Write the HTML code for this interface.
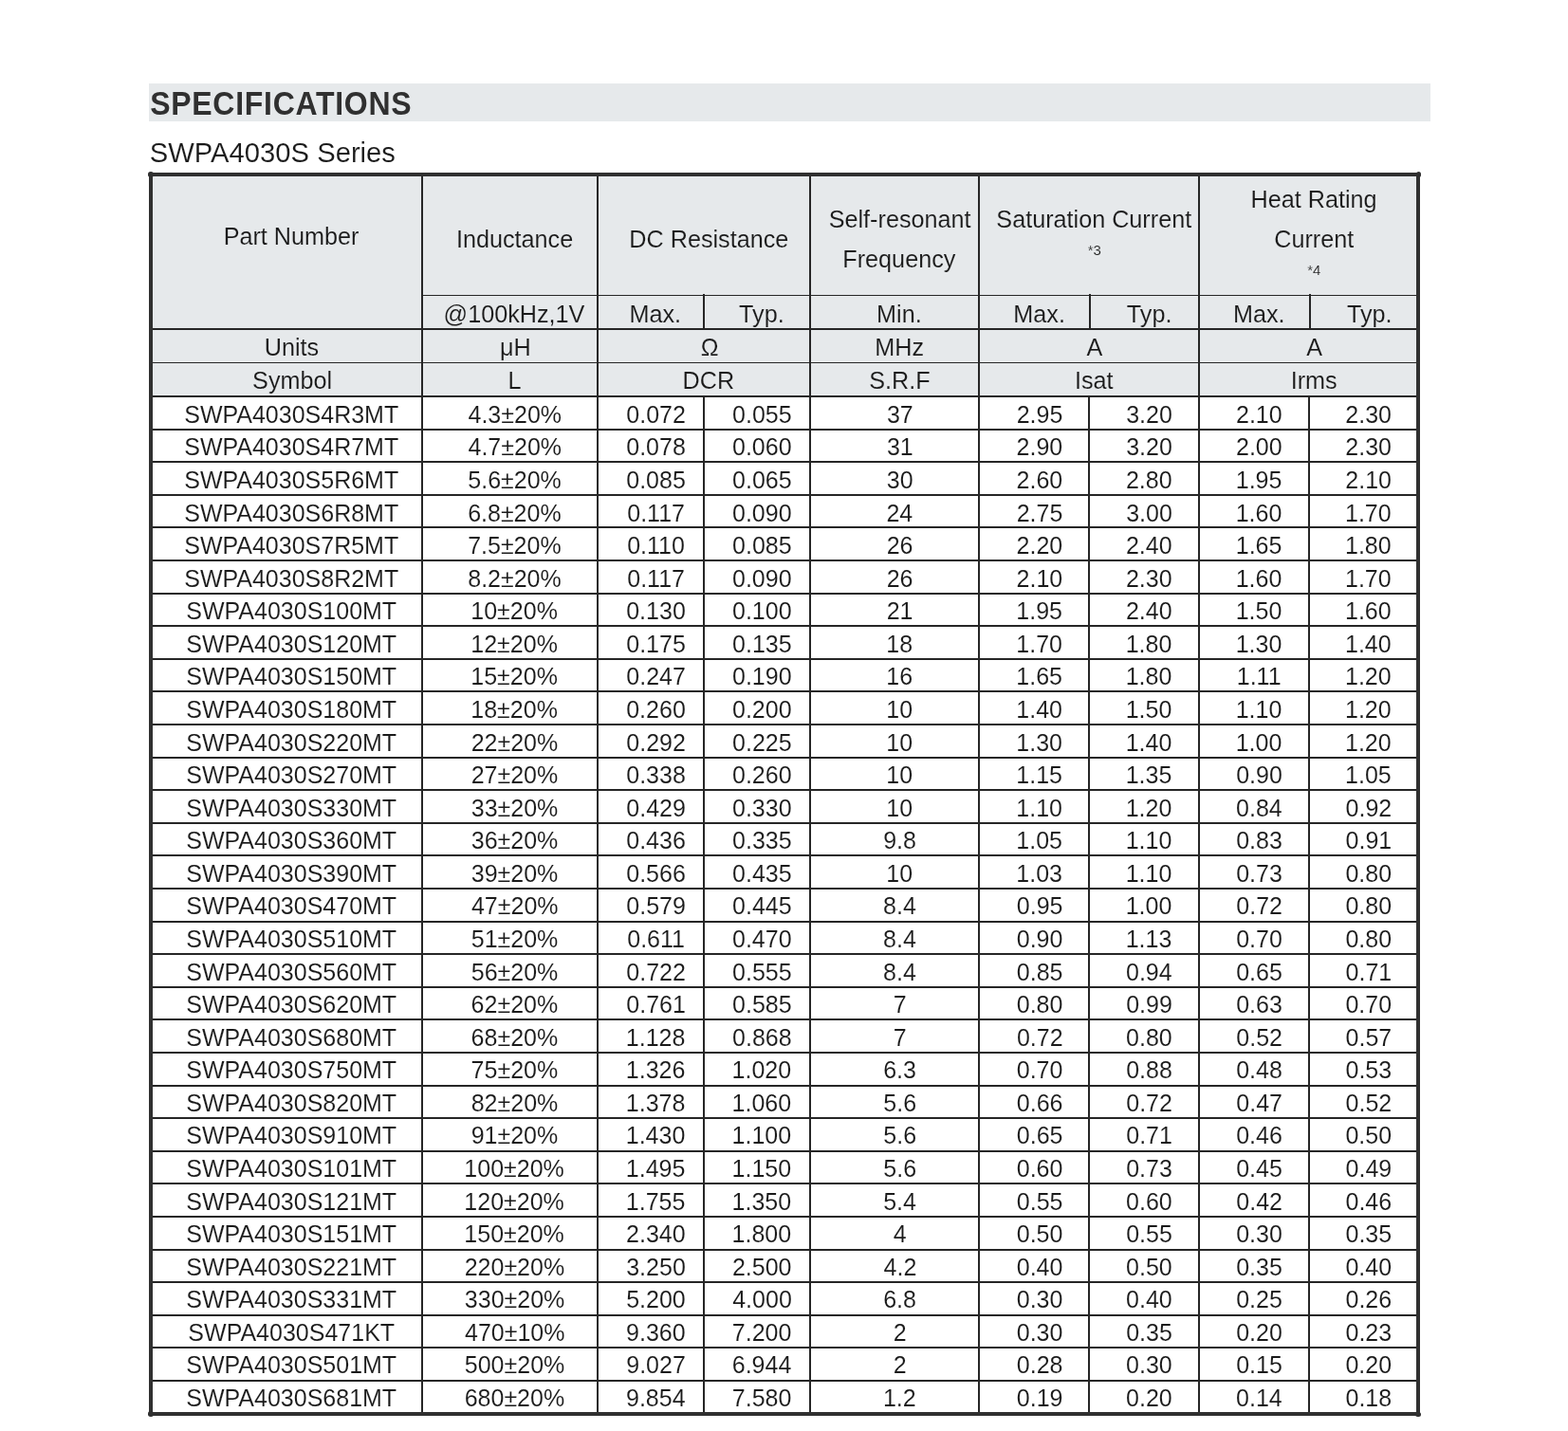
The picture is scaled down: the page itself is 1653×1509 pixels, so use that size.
<!DOCTYPE html>
<html lang="en">
<head>
<meta charset="utf-8">
<title>SWPA4030S Series Specifications</title>
<style>
html,body{margin:0;padding:0;background:#fff;}
body{width:1653px;height:1509px;position:relative;overflow:hidden;font-family:"Liberation Sans",sans-serif;color:#1a1a1a;}
.r{position:absolute;}
.t{position:absolute;white-space:nowrap;margin:0;padding:0;font-weight:normal;color:#1a1a1a;}
.t.b{font-weight:bold;}
.h{-webkit-text-stroke:0.1px #e6e9eb;}
.d{-webkit-text-stroke:0.1px #fff;}
h1.t{-webkit-text-stroke:0.0px #e6e9eb;color:#303030;}
h2.t{-webkit-text-stroke:0.1px #fff;}
</style>
</head>
<body>
<div class="r" style="left:157.00px;top:88.00px;width:1351.00px;height:40.00px;background:#e6e9eb"></div>
<div class="r" style="left:161.00px;top:186.00px;width:1332.00px;height:232.00px;background:#e6e9eb"></div>
<div class="r" style="left:157.00px;top:182.00px;width:4.00px;height:1311.00px;background:#303030"></div>
<div class="r" style="left:1493.00px;top:182.00px;width:4.00px;height:1311.00px;background:#303030"></div>
<div class="r" style="left:157.00px;top:182.00px;width:1340.00px;height:4.00px;background:#303030"></div>
<div class="r" style="left:157.00px;top:1489.00px;width:1340.00px;height:4.00px;background:#303030"></div>
<div class="r" style="left:444.20px;top:186.00px;width:2.00px;height:1303.00px;background:#262626"></div>
<div class="r" style="left:629.20px;top:186.00px;width:2.00px;height:1303.00px;background:#262626"></div>
<div class="r" style="left:852.80px;top:186.00px;width:2.00px;height:1303.00px;background:#262626"></div>
<div class="r" style="left:1031.20px;top:186.00px;width:2.00px;height:1303.00px;background:#262626"></div>
<div class="r" style="left:1263.20px;top:186.00px;width:2.00px;height:1303.00px;background:#262626"></div>
<div class="r" style="left:741.00px;top:310.00px;width:2.00px;height:37.00px;background:#262626"></div>
<div class="r" style="left:740.50px;top:418.00px;width:2.00px;height:1071.00px;background:#262626"></div>
<div class="r" style="left:1148.00px;top:310.00px;width:2.00px;height:37.00px;background:#262626"></div>
<div class="r" style="left:1147.00px;top:418.00px;width:2.00px;height:1071.00px;background:#262626"></div>
<div class="r" style="left:1380.00px;top:310.00px;width:2.00px;height:37.00px;background:#262626"></div>
<div class="r" style="left:1379.00px;top:418.00px;width:2.00px;height:1071.00px;background:#262626"></div>
<div class="r" style="left:445.20px;top:311.00px;width:1047.80px;height:1.00px;background:#262626"></div>
<div class="r" style="left:161.00px;top:346.00px;width:1332.00px;height:2.00px;background:#262626"></div>
<div class="r" style="left:161.00px;top:382.00px;width:1332.00px;height:1.00px;background:#262626"></div>
<div class="r" style="left:161.00px;top:417.00px;width:1332.00px;height:2.00px;background:#262626"></div>
<div class="r" style="left:161.00px;top:451.60px;width:1332.00px;height:2.00px;background:#262626"></div>
<div class="r" style="left:161.00px;top:486.20px;width:1332.00px;height:2.00px;background:#262626"></div>
<div class="r" style="left:161.00px;top:520.80px;width:1332.00px;height:2.00px;background:#262626"></div>
<div class="r" style="left:161.00px;top:555.40px;width:1332.00px;height:2.00px;background:#262626"></div>
<div class="r" style="left:161.00px;top:590.00px;width:1332.00px;height:2.00px;background:#262626"></div>
<div class="r" style="left:161.00px;top:624.60px;width:1332.00px;height:2.00px;background:#262626"></div>
<div class="r" style="left:161.00px;top:659.20px;width:1332.00px;height:2.00px;background:#262626"></div>
<div class="r" style="left:161.00px;top:693.80px;width:1332.00px;height:2.00px;background:#262626"></div>
<div class="r" style="left:161.00px;top:728.40px;width:1332.00px;height:2.00px;background:#262626"></div>
<div class="r" style="left:161.00px;top:763.00px;width:1332.00px;height:2.00px;background:#262626"></div>
<div class="r" style="left:161.00px;top:797.60px;width:1332.00px;height:2.00px;background:#262626"></div>
<div class="r" style="left:161.00px;top:832.20px;width:1332.00px;height:2.00px;background:#262626"></div>
<div class="r" style="left:161.00px;top:866.80px;width:1332.00px;height:2.00px;background:#262626"></div>
<div class="r" style="left:161.00px;top:901.40px;width:1332.00px;height:2.00px;background:#262626"></div>
<div class="r" style="left:161.00px;top:936.00px;width:1332.00px;height:2.00px;background:#262626"></div>
<div class="r" style="left:161.00px;top:970.60px;width:1332.00px;height:2.00px;background:#262626"></div>
<div class="r" style="left:161.00px;top:1005.20px;width:1332.00px;height:2.00px;background:#262626"></div>
<div class="r" style="left:161.00px;top:1039.80px;width:1332.00px;height:2.00px;background:#262626"></div>
<div class="r" style="left:161.00px;top:1074.40px;width:1332.00px;height:2.00px;background:#262626"></div>
<div class="r" style="left:161.00px;top:1109.00px;width:1332.00px;height:2.00px;background:#262626"></div>
<div class="r" style="left:161.00px;top:1143.60px;width:1332.00px;height:2.00px;background:#262626"></div>
<div class="r" style="left:161.00px;top:1178.20px;width:1332.00px;height:2.00px;background:#262626"></div>
<div class="r" style="left:161.00px;top:1212.80px;width:1332.00px;height:2.00px;background:#262626"></div>
<div class="r" style="left:161.00px;top:1247.40px;width:1332.00px;height:2.00px;background:#262626"></div>
<div class="r" style="left:161.00px;top:1282.00px;width:1332.00px;height:2.00px;background:#262626"></div>
<div class="r" style="left:161.00px;top:1316.60px;width:1332.00px;height:2.00px;background:#262626"></div>
<div class="r" style="left:161.00px;top:1351.20px;width:1332.00px;height:2.00px;background:#262626"></div>
<div class="r" style="left:161.00px;top:1385.80px;width:1332.00px;height:2.00px;background:#262626"></div>
<div class="r" style="left:161.00px;top:1420.40px;width:1332.00px;height:2.00px;background:#262626"></div>
<div class="r" style="left:161.00px;top:1455.00px;width:1332.00px;height:2.00px;background:#262626"></div>
<div class="r" style="left:156.20px;top:181.20px;width:5.60px;height:5.60px;border-radius:50%;background:#303030"></div>
<div class="r" style="left:1492.50px;top:181.00px;width:5.60px;height:5.60px;border-radius:50%;background:#303030"></div>
<div class="r" style="left:156.00px;top:1488.40px;width:5.60px;height:5.60px;border-radius:50%;background:#303030"></div>
<div class="r" style="left:1492.20px;top:1488.50px;width:5.60px;height:5.60px;border-radius:50%;background:#303030"></div>
<h1 class="t b" style="left:158.18px;top:89.00px;font-size:32px;line-height:42px;letter-spacing:0.721px;transform:scaleY(1.0765);transform-origin:0 32.00px;">SPECIFICATIONS</h1>
<h2 class="t" style="left:157.77px;top:142.00px;font-size:29.2px;line-height:38px;letter-spacing:0.010px;transform:scaleY(1.0204);transform-origin:0 29.00px;">SWPA4030S Series</h2>
<div class="t h" style="left:235.68px;top:233.00px;font-size:25.2px;line-height:33px;">Part Number</div>
<div class="t h" style="left:480.93px;top:236.00px;font-size:25.2px;line-height:33px;">Inductance</div>
<div class="t h" style="left:663.33px;top:236.00px;font-size:25.2px;line-height:33px;">DC Resistance</div>
<div class="t h" style="left:873.71px;top:215.00px;font-size:25.2px;line-height:33px;">Self-resonant</div>
<div class="t h" style="left:888.33px;top:257.00px;font-size:25.2px;line-height:33px;">Frequency</div>
<div class="t h" style="left:1050.36px;top:215.00px;font-size:25.2px;line-height:33px;">Saturation Current</div>
<div class="t h" style="left:1146.76px;top:254.00px;font-size:15px;line-height:20px;">*3</div>
<div class="t h" style="left:1318.57px;top:194.00px;font-size:25.2px;line-height:33px;">Heat Rating</div>
<div class="t h" style="left:1343.25px;top:236.00px;font-size:25.2px;line-height:33px;">Current</div>
<div class="t h" style="left:1378.21px;top:275.00px;font-size:15px;line-height:20px;">*4</div>
<div class="t h" style="left:467.57px;top:315.00px;font-size:25.2px;line-height:33px;">@100kHz,1V</div>
<div class="t h" style="left:663.47px;top:315.00px;font-size:25.2px;line-height:33px;">Max.</div>
<div class="t h" style="left:779.06px;top:315.00px;font-size:25.2px;line-height:33px;">Typ.</div>
<div class="t h" style="left:924.12px;top:315.00px;font-size:25.2px;line-height:33px;">Min.</div>
<div class="t h" style="left:1068.37px;top:315.00px;font-size:25.2px;line-height:33px;">Max.</div>
<div class="t h" style="left:1187.81px;top:315.00px;font-size:25.2px;line-height:33px;">Typ.</div>
<div class="t h" style="left:1299.97px;top:315.00px;font-size:25.2px;line-height:33px;">Max.</div>
<div class="t h" style="left:1419.91px;top:315.00px;font-size:25.2px;line-height:33px;">Typ.</div>
<div class="t h" style="left:278.69px;top:350.00px;font-size:25.2px;line-height:33px;">Units</div>
<div class="t h" style="left:526.98px;top:350.00px;font-size:25.2px;line-height:33px;">μH</div>
<div class="t h" style="left:738.68px;top:350.00px;font-size:25.2px;line-height:33px;">Ω</div>
<div class="t h" style="left:922.36px;top:350.00px;font-size:25.2px;line-height:33px;">MHz</div>
<div class="t h" style="left:1145.59px;top:350.00px;font-size:25.2px;line-height:33px;">A</div>
<div class="t h" style="left:1377.29px;top:350.00px;font-size:25.2px;line-height:33px;">A</div>
<div class="t h" style="left:266.12px;top:385.00px;font-size:25.2px;line-height:33px;">Symbol</div>
<div class="t h" style="left:535.48px;top:385.00px;font-size:25.2px;line-height:33px;">L</div>
<div class="t h" style="left:719.56px;top:385.00px;font-size:25.2px;line-height:33px;">DCR</div>
<div class="t h" style="left:916.19px;top:385.00px;font-size:25.2px;line-height:33px;">S.R.F</div>
<div class="t h" style="left:1132.92px;top:385.00px;font-size:25.2px;line-height:33px;">Isat</div>
<div class="t h" style="left:1360.66px;top:385.00px;font-size:25.2px;line-height:33px;">Irms</div>
<div class="t d" style="left:194.21px;top:421.00px;font-size:25.0px;line-height:32px;">SWPA4030S4R3MT</div>
<div class="t d" style="left:493.50px;top:421.00px;font-size:25.0px;line-height:32px;">4.3±20%</div>
<div class="t d" style="left:660.36px;top:421.00px;font-size:25.0px;line-height:32px;">0.072</div>
<div class="t d" style="left:772.06px;top:421.00px;font-size:25.0px;line-height:32px;">0.055</div>
<div class="t d" style="left:934.90px;top:421.00px;font-size:25.0px;line-height:32px;">37</div>
<div class="t d" style="left:1071.66px;top:421.00px;font-size:25.0px;line-height:32px;">2.95</div>
<div class="t d" style="left:1187.13px;top:421.00px;font-size:25.0px;line-height:32px;">3.20</div>
<div class="t d" style="left:1303.02px;top:421.00px;font-size:25.0px;line-height:32px;">2.10</div>
<div class="t d" style="left:1418.32px;top:421.00px;font-size:25.0px;line-height:32px;">2.30</div>
<div class="t d" style="left:194.21px;top:455.00px;font-size:25.0px;line-height:32px;">SWPA4030S4R7MT</div>
<div class="t d" style="left:493.50px;top:455.00px;font-size:25.0px;line-height:32px;">4.7±20%</div>
<div class="t d" style="left:660.27px;top:455.00px;font-size:25.0px;line-height:32px;">0.078</div>
<div class="t d" style="left:772.02px;top:455.00px;font-size:25.0px;line-height:32px;">0.060</div>
<div class="t d" style="left:934.88px;top:455.00px;font-size:25.0px;line-height:32px;">31</div>
<div class="t d" style="left:1071.62px;top:455.00px;font-size:25.0px;line-height:32px;">2.90</div>
<div class="t d" style="left:1187.13px;top:455.00px;font-size:25.0px;line-height:32px;">3.20</div>
<div class="t d" style="left:1303.02px;top:455.00px;font-size:25.0px;line-height:32px;">2.00</div>
<div class="t d" style="left:1418.32px;top:455.00px;font-size:25.0px;line-height:32px;">2.30</div>
<div class="t d" style="left:194.21px;top:490.00px;font-size:25.0px;line-height:32px;">SWPA4030S5R6MT</div>
<div class="t d" style="left:493.29px;top:490.00px;font-size:25.0px;line-height:32px;">5.6±20%</div>
<div class="t d" style="left:660.26px;top:490.00px;font-size:25.0px;line-height:32px;">0.085</div>
<div class="t d" style="left:772.06px;top:490.00px;font-size:25.0px;line-height:32px;">0.065</div>
<div class="t d" style="left:934.76px;top:490.00px;font-size:25.0px;line-height:32px;">30</div>
<div class="t d" style="left:1071.62px;top:490.00px;font-size:25.0px;line-height:32px;">2.60</div>
<div class="t d" style="left:1186.97px;top:490.00px;font-size:25.0px;line-height:32px;">2.80</div>
<div class="t d" style="left:1302.74px;top:490.00px;font-size:25.0px;line-height:32px;">1.95</div>
<div class="t d" style="left:1418.32px;top:490.00px;font-size:25.0px;line-height:32px;">2.10</div>
<div class="t d" style="left:194.21px;top:525.00px;font-size:25.0px;line-height:32px;">SWPA4030S6R8MT</div>
<div class="t d" style="left:493.15px;top:525.00px;font-size:25.0px;line-height:32px;">6.8±20%</div>
<div class="t d" style="left:661.28px;top:525.00px;font-size:25.0px;line-height:32px;">0.117</div>
<div class="t d" style="left:772.02px;top:525.00px;font-size:25.0px;line-height:32px;">0.090</div>
<div class="t d" style="left:934.48px;top:525.00px;font-size:25.0px;line-height:32px;">24</div>
<div class="t d" style="left:1071.66px;top:525.00px;font-size:25.0px;line-height:32px;">2.75</div>
<div class="t d" style="left:1187.13px;top:525.00px;font-size:25.0px;line-height:32px;">3.00</div>
<div class="t d" style="left:1302.70px;top:525.00px;font-size:25.0px;line-height:32px;">1.60</div>
<div class="t d" style="left:1418.00px;top:525.00px;font-size:25.0px;line-height:32px;">1.70</div>
<div class="t d" style="left:194.21px;top:559.00px;font-size:25.0px;line-height:32px;">SWPA4030S7R5MT</div>
<div class="t d" style="left:493.15px;top:559.00px;font-size:25.0px;line-height:32px;">7.5±20%</div>
<div class="t d" style="left:661.14px;top:559.00px;font-size:25.0px;line-height:32px;">0.110</div>
<div class="t d" style="left:772.06px;top:559.00px;font-size:25.0px;line-height:32px;">0.085</div>
<div class="t d" style="left:934.66px;top:559.00px;font-size:25.0px;line-height:32px;">26</div>
<div class="t d" style="left:1071.62px;top:559.00px;font-size:25.0px;line-height:32px;">2.20</div>
<div class="t d" style="left:1186.97px;top:559.00px;font-size:25.0px;line-height:32px;">2.40</div>
<div class="t d" style="left:1302.74px;top:559.00px;font-size:25.0px;line-height:32px;">1.65</div>
<div class="t d" style="left:1418.00px;top:559.00px;font-size:25.0px;line-height:32px;">1.80</div>
<div class="t d" style="left:194.21px;top:594.00px;font-size:25.0px;line-height:32px;">SWPA4030S8R2MT</div>
<div class="t d" style="left:493.24px;top:594.00px;font-size:25.0px;line-height:32px;">8.2±20%</div>
<div class="t d" style="left:661.28px;top:594.00px;font-size:25.0px;line-height:32px;">0.117</div>
<div class="t d" style="left:772.02px;top:594.00px;font-size:25.0px;line-height:32px;">0.090</div>
<div class="t d" style="left:934.66px;top:594.00px;font-size:25.0px;line-height:32px;">26</div>
<div class="t d" style="left:1071.62px;top:594.00px;font-size:25.0px;line-height:32px;">2.10</div>
<div class="t d" style="left:1186.97px;top:594.00px;font-size:25.0px;line-height:32px;">2.30</div>
<div class="t d" style="left:1302.70px;top:594.00px;font-size:25.0px;line-height:32px;">1.60</div>
<div class="t d" style="left:1418.00px;top:594.00px;font-size:25.0px;line-height:32px;">1.70</div>
<div class="t d" style="left:196.28px;top:628.00px;font-size:25.0px;line-height:32px;">SWPA4030S100MT</div>
<div class="t d" style="left:496.30px;top:628.00px;font-size:25.0px;line-height:32px;">10±20%</div>
<div class="t d" style="left:660.22px;top:628.00px;font-size:25.0px;line-height:32px;">0.130</div>
<div class="t d" style="left:772.02px;top:628.00px;font-size:25.0px;line-height:32px;">0.100</div>
<div class="t d" style="left:934.73px;top:628.00px;font-size:25.0px;line-height:32px;">21</div>
<div class="t d" style="left:1071.34px;top:628.00px;font-size:25.0px;line-height:32px;">1.95</div>
<div class="t d" style="left:1186.97px;top:628.00px;font-size:25.0px;line-height:32px;">2.40</div>
<div class="t d" style="left:1302.70px;top:628.00px;font-size:25.0px;line-height:32px;">1.50</div>
<div class="t d" style="left:1418.00px;top:628.00px;font-size:25.0px;line-height:32px;">1.60</div>
<div class="t d" style="left:196.28px;top:663.00px;font-size:25.0px;line-height:32px;">SWPA4030S120MT</div>
<div class="t d" style="left:496.30px;top:663.00px;font-size:25.0px;line-height:32px;">12±20%</div>
<div class="t d" style="left:660.26px;top:663.00px;font-size:25.0px;line-height:32px;">0.175</div>
<div class="t d" style="left:772.06px;top:663.00px;font-size:25.0px;line-height:32px;">0.135</div>
<div class="t d" style="left:934.33px;top:663.00px;font-size:25.0px;line-height:32px;">18</div>
<div class="t d" style="left:1071.30px;top:663.00px;font-size:25.0px;line-height:32px;">1.70</div>
<div class="t d" style="left:1186.65px;top:663.00px;font-size:25.0px;line-height:32px;">1.80</div>
<div class="t d" style="left:1302.70px;top:663.00px;font-size:25.0px;line-height:32px;">1.30</div>
<div class="t d" style="left:1418.00px;top:663.00px;font-size:25.0px;line-height:32px;">1.40</div>
<div class="t d" style="left:196.28px;top:697.00px;font-size:25.0px;line-height:32px;">SWPA4030S150MT</div>
<div class="t d" style="left:496.30px;top:697.00px;font-size:25.0px;line-height:32px;">15±20%</div>
<div class="t d" style="left:660.36px;top:697.00px;font-size:25.0px;line-height:32px;">0.247</div>
<div class="t d" style="left:772.02px;top:697.00px;font-size:25.0px;line-height:32px;">0.190</div>
<div class="t d" style="left:934.34px;top:697.00px;font-size:25.0px;line-height:32px;">16</div>
<div class="t d" style="left:1071.34px;top:697.00px;font-size:25.0px;line-height:32px;">1.65</div>
<div class="t d" style="left:1186.65px;top:697.00px;font-size:25.0px;line-height:32px;">1.80</div>
<div class="t d" style="left:1303.75px;top:697.00px;font-size:25.0px;line-height:32px;">1.11</div>
<div class="t d" style="left:1418.00px;top:697.00px;font-size:25.0px;line-height:32px;">1.20</div>
<div class="t d" style="left:196.28px;top:732.00px;font-size:25.0px;line-height:32px;">SWPA4030S180MT</div>
<div class="t d" style="left:496.30px;top:732.00px;font-size:25.0px;line-height:32px;">18±20%</div>
<div class="t d" style="left:660.22px;top:732.00px;font-size:25.0px;line-height:32px;">0.260</div>
<div class="t d" style="left:772.02px;top:732.00px;font-size:25.0px;line-height:32px;">0.200</div>
<div class="t d" style="left:934.28px;top:732.00px;font-size:25.0px;line-height:32px;">10</div>
<div class="t d" style="left:1071.30px;top:732.00px;font-size:25.0px;line-height:32px;">1.40</div>
<div class="t d" style="left:1186.65px;top:732.00px;font-size:25.0px;line-height:32px;">1.50</div>
<div class="t d" style="left:1302.70px;top:732.00px;font-size:25.0px;line-height:32px;">1.10</div>
<div class="t d" style="left:1418.00px;top:732.00px;font-size:25.0px;line-height:32px;">1.20</div>
<div class="t d" style="left:196.28px;top:767.00px;font-size:25.0px;line-height:32px;">SWPA4030S220MT</div>
<div class="t d" style="left:496.63px;top:767.00px;font-size:25.0px;line-height:32px;">22±20%</div>
<div class="t d" style="left:660.36px;top:767.00px;font-size:25.0px;line-height:32px;">0.292</div>
<div class="t d" style="left:772.06px;top:767.00px;font-size:25.0px;line-height:32px;">0.225</div>
<div class="t d" style="left:934.28px;top:767.00px;font-size:25.0px;line-height:32px;">10</div>
<div class="t d" style="left:1071.30px;top:767.00px;font-size:25.0px;line-height:32px;">1.30</div>
<div class="t d" style="left:1186.65px;top:767.00px;font-size:25.0px;line-height:32px;">1.40</div>
<div class="t d" style="left:1302.70px;top:767.00px;font-size:25.0px;line-height:32px;">1.00</div>
<div class="t d" style="left:1418.00px;top:767.00px;font-size:25.0px;line-height:32px;">1.20</div>
<div class="t d" style="left:196.28px;top:801.00px;font-size:25.0px;line-height:32px;">SWPA4030S270MT</div>
<div class="t d" style="left:496.63px;top:801.00px;font-size:25.0px;line-height:32px;">27±20%</div>
<div class="t d" style="left:660.27px;top:801.00px;font-size:25.0px;line-height:32px;">0.338</div>
<div class="t d" style="left:772.02px;top:801.00px;font-size:25.0px;line-height:32px;">0.260</div>
<div class="t d" style="left:934.28px;top:801.00px;font-size:25.0px;line-height:32px;">10</div>
<div class="t d" style="left:1071.34px;top:801.00px;font-size:25.0px;line-height:32px;">1.15</div>
<div class="t d" style="left:1186.69px;top:801.00px;font-size:25.0px;line-height:32px;">1.35</div>
<div class="t d" style="left:1303.16px;top:801.00px;font-size:25.0px;line-height:32px;">0.90</div>
<div class="t d" style="left:1418.04px;top:801.00px;font-size:25.0px;line-height:32px;">1.05</div>
<div class="t d" style="left:196.28px;top:836.00px;font-size:25.0px;line-height:32px;">SWPA4030S330MT</div>
<div class="t d" style="left:496.78px;top:836.00px;font-size:25.0px;line-height:32px;">33±20%</div>
<div class="t d" style="left:660.32px;top:836.00px;font-size:25.0px;line-height:32px;">0.429</div>
<div class="t d" style="left:772.02px;top:836.00px;font-size:25.0px;line-height:32px;">0.330</div>
<div class="t d" style="left:934.28px;top:836.00px;font-size:25.0px;line-height:32px;">10</div>
<div class="t d" style="left:1071.30px;top:836.00px;font-size:25.0px;line-height:32px;">1.10</div>
<div class="t d" style="left:1186.65px;top:836.00px;font-size:25.0px;line-height:32px;">1.20</div>
<div class="t d" style="left:1303.04px;top:836.00px;font-size:25.0px;line-height:32px;">0.84</div>
<div class="t d" style="left:1418.60px;top:836.00px;font-size:25.0px;line-height:32px;">0.92</div>
<div class="t d" style="left:196.28px;top:870.00px;font-size:25.0px;line-height:32px;">SWPA4030S360MT</div>
<div class="t d" style="left:496.78px;top:870.00px;font-size:25.0px;line-height:32px;">36±20%</div>
<div class="t d" style="left:660.28px;top:870.00px;font-size:25.0px;line-height:32px;">0.436</div>
<div class="t d" style="left:772.06px;top:870.00px;font-size:25.0px;line-height:32px;">0.335</div>
<div class="t d" style="left:931.22px;top:870.00px;font-size:25.0px;line-height:32px;">9.8</div>
<div class="t d" style="left:1071.34px;top:870.00px;font-size:25.0px;line-height:32px;">1.05</div>
<div class="t d" style="left:1186.65px;top:870.00px;font-size:25.0px;line-height:32px;">1.10</div>
<div class="t d" style="left:1303.23px;top:870.00px;font-size:25.0px;line-height:32px;">0.83</div>
<div class="t d" style="left:1418.59px;top:870.00px;font-size:25.0px;line-height:32px;">0.91</div>
<div class="t d" style="left:196.28px;top:905.00px;font-size:25.0px;line-height:32px;">SWPA4030S390MT</div>
<div class="t d" style="left:496.78px;top:905.00px;font-size:25.0px;line-height:32px;">39±20%</div>
<div class="t d" style="left:660.28px;top:905.00px;font-size:25.0px;line-height:32px;">0.566</div>
<div class="t d" style="left:772.06px;top:905.00px;font-size:25.0px;line-height:32px;">0.435</div>
<div class="t d" style="left:934.28px;top:905.00px;font-size:25.0px;line-height:32px;">10</div>
<div class="t d" style="left:1071.36px;top:905.00px;font-size:25.0px;line-height:32px;">1.03</div>
<div class="t d" style="left:1186.65px;top:905.00px;font-size:25.0px;line-height:32px;">1.10</div>
<div class="t d" style="left:1303.23px;top:905.00px;font-size:25.0px;line-height:32px;">0.73</div>
<div class="t d" style="left:1418.46px;top:905.00px;font-size:25.0px;line-height:32px;">0.80</div>
<div class="t d" style="left:196.28px;top:939.00px;font-size:25.0px;line-height:32px;">SWPA4030S470MT</div>
<div class="t d" style="left:496.97px;top:939.00px;font-size:25.0px;line-height:32px;">47±20%</div>
<div class="t d" style="left:660.32px;top:939.00px;font-size:25.0px;line-height:32px;">0.579</div>
<div class="t d" style="left:772.06px;top:939.00px;font-size:25.0px;line-height:32px;">0.445</div>
<div class="t d" style="left:931.09px;top:939.00px;font-size:25.0px;line-height:32px;">8.4</div>
<div class="t d" style="left:1071.80px;top:939.00px;font-size:25.0px;line-height:32px;">0.95</div>
<div class="t d" style="left:1186.65px;top:939.00px;font-size:25.0px;line-height:32px;">1.00</div>
<div class="t d" style="left:1303.30px;top:939.00px;font-size:25.0px;line-height:32px;">0.72</div>
<div class="t d" style="left:1418.46px;top:939.00px;font-size:25.0px;line-height:32px;">0.80</div>
<div class="t d" style="left:196.28px;top:974.00px;font-size:25.0px;line-height:32px;">SWPA4030S510MT</div>
<div class="t d" style="left:496.76px;top:974.00px;font-size:25.0px;line-height:32px;">51±20%</div>
<div class="t d" style="left:661.26px;top:974.00px;font-size:25.0px;line-height:32px;">0.611</div>
<div class="t d" style="left:772.02px;top:974.00px;font-size:25.0px;line-height:32px;">0.470</div>
<div class="t d" style="left:931.09px;top:974.00px;font-size:25.0px;line-height:32px;">8.4</div>
<div class="t d" style="left:1071.76px;top:974.00px;font-size:25.0px;line-height:32px;">0.90</div>
<div class="t d" style="left:1186.71px;top:974.00px;font-size:25.0px;line-height:32px;">1.13</div>
<div class="t d" style="left:1303.16px;top:974.00px;font-size:25.0px;line-height:32px;">0.70</div>
<div class="t d" style="left:1418.46px;top:974.00px;font-size:25.0px;line-height:32px;">0.80</div>
<div class="t d" style="left:196.28px;top:1009.00px;font-size:25.0px;line-height:32px;">SWPA4030S560MT</div>
<div class="t d" style="left:496.76px;top:1009.00px;font-size:25.0px;line-height:32px;">56±20%</div>
<div class="t d" style="left:660.36px;top:1009.00px;font-size:25.0px;line-height:32px;">0.722</div>
<div class="t d" style="left:772.06px;top:1009.00px;font-size:25.0px;line-height:32px;">0.555</div>
<div class="t d" style="left:931.09px;top:1009.00px;font-size:25.0px;line-height:32px;">8.4</div>
<div class="t d" style="left:1071.80px;top:1009.00px;font-size:25.0px;line-height:32px;">0.85</div>
<div class="t d" style="left:1186.99px;top:1009.00px;font-size:25.0px;line-height:32px;">0.94</div>
<div class="t d" style="left:1303.20px;top:1009.00px;font-size:25.0px;line-height:32px;">0.65</div>
<div class="t d" style="left:1418.59px;top:1009.00px;font-size:25.0px;line-height:32px;">0.71</div>
<div class="t d" style="left:196.28px;top:1043.00px;font-size:25.0px;line-height:32px;">SWPA4030S620MT</div>
<div class="t d" style="left:496.62px;top:1043.00px;font-size:25.0px;line-height:32px;">62±20%</div>
<div class="t d" style="left:660.34px;top:1043.00px;font-size:25.0px;line-height:32px;">0.761</div>
<div class="t d" style="left:772.06px;top:1043.00px;font-size:25.0px;line-height:32px;">0.585</div>
<div class="t d" style="left:941.68px;top:1043.00px;font-size:25.0px;line-height:32px;">7</div>
<div class="t d" style="left:1071.76px;top:1043.00px;font-size:25.0px;line-height:32px;">0.80</div>
<div class="t d" style="left:1187.22px;top:1043.00px;font-size:25.0px;line-height:32px;">0.99</div>
<div class="t d" style="left:1303.23px;top:1043.00px;font-size:25.0px;line-height:32px;">0.63</div>
<div class="t d" style="left:1418.46px;top:1043.00px;font-size:25.0px;line-height:32px;">0.70</div>
<div class="t d" style="left:196.28px;top:1078.00px;font-size:25.0px;line-height:32px;">SWPA4030S680MT</div>
<div class="t d" style="left:496.62px;top:1078.00px;font-size:25.0px;line-height:32px;">68±20%</div>
<div class="t d" style="left:659.81px;top:1078.00px;font-size:25.0px;line-height:32px;">1.128</div>
<div class="t d" style="left:772.07px;top:1078.00px;font-size:25.0px;line-height:32px;">0.868</div>
<div class="t d" style="left:941.68px;top:1078.00px;font-size:25.0px;line-height:32px;">7</div>
<div class="t d" style="left:1071.90px;top:1078.00px;font-size:25.0px;line-height:32px;">0.72</div>
<div class="t d" style="left:1187.11px;top:1078.00px;font-size:25.0px;line-height:32px;">0.80</div>
<div class="t d" style="left:1303.30px;top:1078.00px;font-size:25.0px;line-height:32px;">0.52</div>
<div class="t d" style="left:1418.60px;top:1078.00px;font-size:25.0px;line-height:32px;">0.57</div>
<div class="t d" style="left:196.28px;top:1112.00px;font-size:25.0px;line-height:32px;">SWPA4030S750MT</div>
<div class="t d" style="left:496.62px;top:1112.00px;font-size:25.0px;line-height:32px;">75±20%</div>
<div class="t d" style="left:659.82px;top:1112.00px;font-size:25.0px;line-height:32px;">1.326</div>
<div class="t d" style="left:771.55px;top:1112.00px;font-size:25.0px;line-height:32px;">1.020</div>
<div class="t d" style="left:931.18px;top:1112.00px;font-size:25.0px;line-height:32px;">6.3</div>
<div class="t d" style="left:1071.76px;top:1112.00px;font-size:25.0px;line-height:32px;">0.70</div>
<div class="t d" style="left:1187.17px;top:1112.00px;font-size:25.0px;line-height:32px;">0.88</div>
<div class="t d" style="left:1303.22px;top:1112.00px;font-size:25.0px;line-height:32px;">0.48</div>
<div class="t d" style="left:1418.53px;top:1112.00px;font-size:25.0px;line-height:32px;">0.53</div>
<div class="t d" style="left:196.28px;top:1147.00px;font-size:25.0px;line-height:32px;">SWPA4030S820MT</div>
<div class="t d" style="left:496.71px;top:1147.00px;font-size:25.0px;line-height:32px;">82±20%</div>
<div class="t d" style="left:659.81px;top:1147.00px;font-size:25.0px;line-height:32px;">1.378</div>
<div class="t d" style="left:771.55px;top:1147.00px;font-size:25.0px;line-height:32px;">1.060</div>
<div class="t d" style="left:931.32px;top:1147.00px;font-size:25.0px;line-height:32px;">5.6</div>
<div class="t d" style="left:1071.83px;top:1147.00px;font-size:25.0px;line-height:32px;">0.66</div>
<div class="t d" style="left:1187.25px;top:1147.00px;font-size:25.0px;line-height:32px;">0.72</div>
<div class="t d" style="left:1303.30px;top:1147.00px;font-size:25.0px;line-height:32px;">0.47</div>
<div class="t d" style="left:1418.60px;top:1147.00px;font-size:25.0px;line-height:32px;">0.52</div>
<div class="t d" style="left:196.28px;top:1181.00px;font-size:25.0px;line-height:32px;">SWPA4030S910MT</div>
<div class="t d" style="left:496.67px;top:1181.00px;font-size:25.0px;line-height:32px;">91±20%</div>
<div class="t d" style="left:659.75px;top:1181.00px;font-size:25.0px;line-height:32px;">1.430</div>
<div class="t d" style="left:771.55px;top:1181.00px;font-size:25.0px;line-height:32px;">1.100</div>
<div class="t d" style="left:931.32px;top:1181.00px;font-size:25.0px;line-height:32px;">5.6</div>
<div class="t d" style="left:1071.80px;top:1181.00px;font-size:25.0px;line-height:32px;">0.65</div>
<div class="t d" style="left:1187.24px;top:1181.00px;font-size:25.0px;line-height:32px;">0.71</div>
<div class="t d" style="left:1303.23px;top:1181.00px;font-size:25.0px;line-height:32px;">0.46</div>
<div class="t d" style="left:1418.46px;top:1181.00px;font-size:25.0px;line-height:32px;">0.50</div>
<div class="t d" style="left:196.28px;top:1216.00px;font-size:25.0px;line-height:32px;">SWPA4030S101MT</div>
<div class="t d" style="left:489.36px;top:1216.00px;font-size:25.0px;line-height:32px;">100±20%</div>
<div class="t d" style="left:659.79px;top:1216.00px;font-size:25.0px;line-height:32px;">1.495</div>
<div class="t d" style="left:771.55px;top:1216.00px;font-size:25.0px;line-height:32px;">1.150</div>
<div class="t d" style="left:931.32px;top:1216.00px;font-size:25.0px;line-height:32px;">5.6</div>
<div class="t d" style="left:1071.76px;top:1216.00px;font-size:25.0px;line-height:32px;">0.60</div>
<div class="t d" style="left:1187.18px;top:1216.00px;font-size:25.0px;line-height:32px;">0.73</div>
<div class="t d" style="left:1303.20px;top:1216.00px;font-size:25.0px;line-height:32px;">0.45</div>
<div class="t d" style="left:1418.57px;top:1216.00px;font-size:25.0px;line-height:32px;">0.49</div>
<div class="t d" style="left:196.28px;top:1251.00px;font-size:25.0px;line-height:32px;">SWPA4030S121MT</div>
<div class="t d" style="left:489.36px;top:1251.00px;font-size:25.0px;line-height:32px;">120±20%</div>
<div class="t d" style="left:659.79px;top:1251.00px;font-size:25.0px;line-height:32px;">1.755</div>
<div class="t d" style="left:771.55px;top:1251.00px;font-size:25.0px;line-height:32px;">1.350</div>
<div class="t d" style="left:931.13px;top:1251.00px;font-size:25.0px;line-height:32px;">5.4</div>
<div class="t d" style="left:1071.80px;top:1251.00px;font-size:25.0px;line-height:32px;">0.55</div>
<div class="t d" style="left:1187.11px;top:1251.00px;font-size:25.0px;line-height:32px;">0.60</div>
<div class="t d" style="left:1303.30px;top:1251.00px;font-size:25.0px;line-height:32px;">0.42</div>
<div class="t d" style="left:1418.53px;top:1251.00px;font-size:25.0px;line-height:32px;">0.46</div>
<div class="t d" style="left:196.28px;top:1285.00px;font-size:25.0px;line-height:32px;">SWPA4030S151MT</div>
<div class="t d" style="left:489.36px;top:1285.00px;font-size:25.0px;line-height:32px;">150±20%</div>
<div class="t d" style="left:660.08px;top:1285.00px;font-size:25.0px;line-height:32px;">2.340</div>
<div class="t d" style="left:771.55px;top:1285.00px;font-size:25.0px;line-height:32px;">1.800</div>
<div class="t d" style="left:941.78px;top:1285.00px;font-size:25.0px;line-height:32px;">4</div>
<div class="t d" style="left:1071.76px;top:1285.00px;font-size:25.0px;line-height:32px;">0.50</div>
<div class="t d" style="left:1187.15px;top:1285.00px;font-size:25.0px;line-height:32px;">0.55</div>
<div class="t d" style="left:1303.16px;top:1285.00px;font-size:25.0px;line-height:32px;">0.30</div>
<div class="t d" style="left:1418.50px;top:1285.00px;font-size:25.0px;line-height:32px;">0.35</div>
<div class="t d" style="left:196.28px;top:1320.00px;font-size:25.0px;line-height:32px;">SWPA4030S221MT</div>
<div class="t d" style="left:489.68px;top:1320.00px;font-size:25.0px;line-height:32px;">220±20%</div>
<div class="t d" style="left:660.23px;top:1320.00px;font-size:25.0px;line-height:32px;">3.250</div>
<div class="t d" style="left:771.88px;top:1320.00px;font-size:25.0px;line-height:32px;">2.500</div>
<div class="t d" style="left:931.61px;top:1320.00px;font-size:25.0px;line-height:32px;">4.2</div>
<div class="t d" style="left:1071.76px;top:1320.00px;font-size:25.0px;line-height:32px;">0.40</div>
<div class="t d" style="left:1187.11px;top:1320.00px;font-size:25.0px;line-height:32px;">0.50</div>
<div class="t d" style="left:1303.20px;top:1320.00px;font-size:25.0px;line-height:32px;">0.35</div>
<div class="t d" style="left:1418.46px;top:1320.00px;font-size:25.0px;line-height:32px;">0.40</div>
<div class="t d" style="left:196.28px;top:1354.00px;font-size:25.0px;line-height:32px;">SWPA4030S331MT</div>
<div class="t d" style="left:489.84px;top:1354.00px;font-size:25.0px;line-height:32px;">330±20%</div>
<div class="t d" style="left:660.21px;top:1354.00px;font-size:25.0px;line-height:32px;">5.200</div>
<div class="t d" style="left:772.22px;top:1354.00px;font-size:25.0px;line-height:32px;">4.000</div>
<div class="t d" style="left:931.18px;top:1354.00px;font-size:25.0px;line-height:32px;">6.8</div>
<div class="t d" style="left:1071.76px;top:1354.00px;font-size:25.0px;line-height:32px;">0.30</div>
<div class="t d" style="left:1187.11px;top:1354.00px;font-size:25.0px;line-height:32px;">0.40</div>
<div class="t d" style="left:1303.20px;top:1354.00px;font-size:25.0px;line-height:32px;">0.25</div>
<div class="t d" style="left:1418.53px;top:1354.00px;font-size:25.0px;line-height:32px;">0.26</div>
<div class="t d" style="left:198.36px;top:1389.00px;font-size:25.0px;line-height:32px;">SWPA4030S471KT</div>
<div class="t d" style="left:490.02px;top:1389.00px;font-size:25.0px;line-height:32px;">470±10%</div>
<div class="t d" style="left:660.12px;top:1389.00px;font-size:25.0px;line-height:32px;">9.360</div>
<div class="t d" style="left:771.87px;top:1389.00px;font-size:25.0px;line-height:32px;">7.200</div>
<div class="t d" style="left:941.70px;top:1389.00px;font-size:25.0px;line-height:32px;">2</div>
<div class="t d" style="left:1071.76px;top:1389.00px;font-size:25.0px;line-height:32px;">0.30</div>
<div class="t d" style="left:1187.15px;top:1389.00px;font-size:25.0px;line-height:32px;">0.35</div>
<div class="t d" style="left:1303.16px;top:1389.00px;font-size:25.0px;line-height:32px;">0.20</div>
<div class="t d" style="left:1418.53px;top:1389.00px;font-size:25.0px;line-height:32px;">0.23</div>
<div class="t d" style="left:196.28px;top:1423.00px;font-size:25.0px;line-height:32px;">SWPA4030S501MT</div>
<div class="t d" style="left:489.81px;top:1423.00px;font-size:25.0px;line-height:32px;">500±20%</div>
<div class="t d" style="left:660.26px;top:1423.00px;font-size:25.0px;line-height:32px;">9.027</div>
<div class="t d" style="left:771.75px;top:1423.00px;font-size:25.0px;line-height:32px;">6.944</div>
<div class="t d" style="left:941.70px;top:1423.00px;font-size:25.0px;line-height:32px;">2</div>
<div class="t d" style="left:1071.82px;top:1423.00px;font-size:25.0px;line-height:32px;">0.28</div>
<div class="t d" style="left:1187.11px;top:1423.00px;font-size:25.0px;line-height:32px;">0.30</div>
<div class="t d" style="left:1303.20px;top:1423.00px;font-size:25.0px;line-height:32px;">0.15</div>
<div class="t d" style="left:1418.46px;top:1423.00px;font-size:25.0px;line-height:32px;">0.20</div>
<div class="t d" style="left:196.28px;top:1458.00px;font-size:25.0px;line-height:32px;">SWPA4030S681MT</div>
<div class="t d" style="left:489.68px;top:1458.00px;font-size:25.0px;line-height:32px;">680±20%</div>
<div class="t d" style="left:660.00px;top:1458.00px;font-size:25.0px;line-height:32px;">9.854</div>
<div class="t d" style="left:771.87px;top:1458.00px;font-size:25.0px;line-height:32px;">7.580</div>
<div class="t d" style="left:930.94px;top:1458.00px;font-size:25.0px;line-height:32px;">1.2</div>
<div class="t d" style="left:1071.87px;top:1458.00px;font-size:25.0px;line-height:32px;">0.19</div>
<div class="t d" style="left:1187.11px;top:1458.00px;font-size:25.0px;line-height:32px;">0.20</div>
<div class="t d" style="left:1303.04px;top:1458.00px;font-size:25.0px;line-height:32px;">0.14</div>
<div class="t d" style="left:1418.52px;top:1458.00px;font-size:25.0px;line-height:32px;">0.18</div>
</body>
</html>
